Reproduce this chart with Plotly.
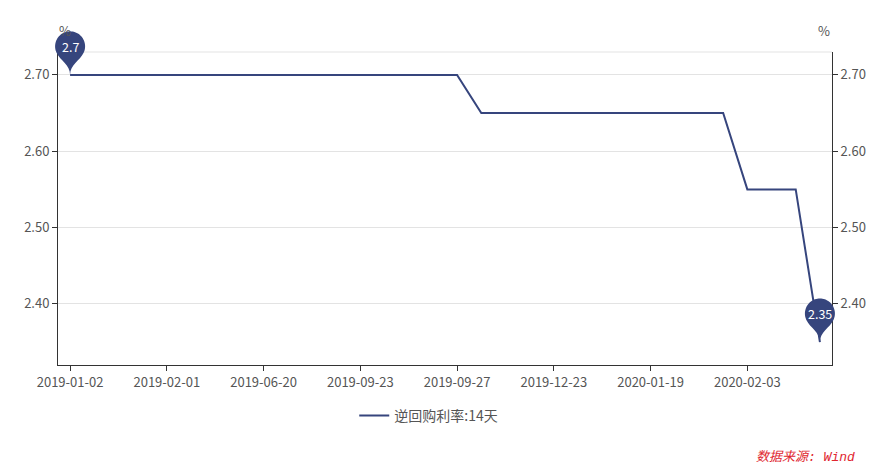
import math
import plotly.graph_objects as go

# ---- data ----
dates = [
    "2019-01-02", "2019-01-09", "2019-01-16", "2019-01-23",
    "2019-02-01", "2019-02-22", "2019-03-15", "2019-05-20",
    "2019-06-20", "2019-07-18", "2019-08-16", "2019-09-20",
    "2019-09-23", "2019-09-24", "2019-09-25", "2019-09-26",
    "2019-09-27", "2019-10-15", "2019-11-18", "2019-12-16",
    "2019-12-23", "2019-12-30", "2020-01-06", "2020-01-13",
    "2020-01-19", "2020-01-20", "2020-01-21", "2020-01-22",
    "2020-02-03", "2020-02-17", "2020-03-02", "2020-03-30",
]
rates = [2.70] * 17 + [2.65] * 11 + [2.55] * 3 + [2.35]
series_name = "逆回购利率:14天"
y_ticks = [2.40, 2.50, 2.60, 2.70]
unit_label = "%"
source_text = "数据来源: Wind"

# ---- style ----
COLOR = "#36457d"
AXIS = "#333333"
TXT = "#555555"
GRID = "#e3e3e3"
FONT = "Noto Sans CJK SC, Open Sans, sans-serif"

n = len(dates)
ymin = min(rates) - 0.03
ymax = max(rates) + 0.03


def pin_path(size=50):
    # ECharts-style pin; tip at (0,0), pixel coords, y up
    w = size / 5 * 3
    h = max(w, size)
    r = w / 2
    dy = r * r / (h - r)
    cy = -h + r + dy
    ang = math.asin(dy / r)
    dx = math.cos(ang) * r
    tx, ty = math.sin(ang), math.cos(ang)
    cp1, cp2 = r * 0.6, r * 0.7
    pts = []
    steps = 48
    a0, a1 = math.pi - ang, 2 * math.pi + ang
    for i in range(steps + 1):
        a = a0 + (a1 - a0) * i / steps
        pts.append((r * math.cos(a), cy + r * math.sin(a)))
    f = lambda x, y: f"{x:.2f},{-y:.2f}"
    d = "M" + f(*pts[0]) + "".join(" L" + f(*p) for p in pts[1:])
    d += " C" + f(dx - tx * cp1, cy + dy + ty * cp1) + " " + f(0, -cp2) + " " + f(0, 0)
    d += " C" + f(0, -cp2) + " " + f(-dx + tx * cp1, cy + dy + ty * cp1) + " " + f(-dx, cy + dy)
    d += " Z"
    return d, -cy


fig = go.Figure()
fig.add_trace(go.Scatter(
    x=dates, y=rates, mode="lines", name=series_name,
    line=dict(color=COLOR, width=2), yaxis="y",
))
fig.add_trace(go.Scatter(
    x=dates, y=rates, mode="lines", showlegend=False, hoverinfo="skip",
    line=dict(color="rgba(0,0,0,0)", width=0), yaxis="y2",
))

path, center_off = pin_path(50)
i_max = rates.index(max(rates))
i_min = len(rates) - 1 - rates[::-1].index(min(rates))
shapes = [dict(type="line", xref="paper", yref="paper", x0=0, x1=1, y0=1, y1=1,
               line=dict(color=GRID, width=1), layer="below")]
annotations = []
for idx in (i_max, i_min):
    v = rates[idx]
    shapes.append(dict(
        type="path", path=path, xref="paper", yref="paper",
        xsizemode="pixel", ysizemode="pixel",
        xanchor=(idx + 0.5) / n, yanchor=(v - ymin) / (ymax - ymin),
        fillcolor=COLOR, line=dict(width=0), layer="above",
    ))
    annotations.append(dict(
        x=idx, y=v, xref="x", yref="y", text=f"{v:g}", showarrow=False,
        yshift=center_off, font=dict(color="white", size=12.5, family=FONT),
    ))

annotations += [
    dict(x=0, y=1, xref="paper", yref="paper", text=unit_label, showarrow=False,
         yanchor="middle", yshift=22, xshift=-1,
         font=dict(size=13, color=TXT, family=FONT)),
    dict(x=1, y=1, xref="paper", yref="paper", text=unit_label, showarrow=False,
         yanchor="middle", yshift=22,
         font=dict(size=13, color=TXT, family=FONT)),
    dict(x=1.032, y=-0.294, xref="paper", yref="paper", text=f"<i>{source_text}</i>",
         showarrow=False, xanchor="right", yanchor="middle",
         font=dict(size=13, color="#e0262f", family="Liberation Mono, Noto Sans CJK SC")),
]

yaxis_common = dict(
    range=[ymin, ymax], tickvals=y_ticks, tickformat=".2f",
    showline=True, linecolor=AXIS, linewidth=1,
    ticks="outside", ticklen=5, tickcolor=AXIS,
    tickfont=dict(size=13, color=TXT, family=FONT),
    zeroline=False, fixedrange=True,
)

fig.update_layout(
    width=889, height=464,
    margin=dict(l=58, r=57, t=52, b=99),
    paper_bgcolor="white", plot_bgcolor="white",
    font=dict(family=FONT, color=TXT, size=12),
    xaxis=dict(
        type="category", range=[-0.5, n - 0.5],
        tickvals=dates[::4], ticktext=dates[::4],
        showline=True, linecolor=AXIS, linewidth=1,
        ticks="outside", ticklen=5, tickcolor=AXIS,
        tickfont=dict(size=13, color=TXT, family=FONT),
        showgrid=False, zeroline=False, tickangle=0,
    ),
    yaxis=dict(side="left", showgrid=True, gridcolor=GRID, gridwidth=1, **yaxis_common),
    yaxis2=dict(side="right", overlaying="y", showgrid=False, **yaxis_common),
    legend=dict(orientation="h", x=0.479, xanchor="center", y=-0.163, yanchor="middle",
                font=dict(size=14, color=TXT, family=FONT), itemwidth=30),
    shapes=shapes, annotations=annotations,
    showlegend=True,
)

fig.write_html("out.html")
